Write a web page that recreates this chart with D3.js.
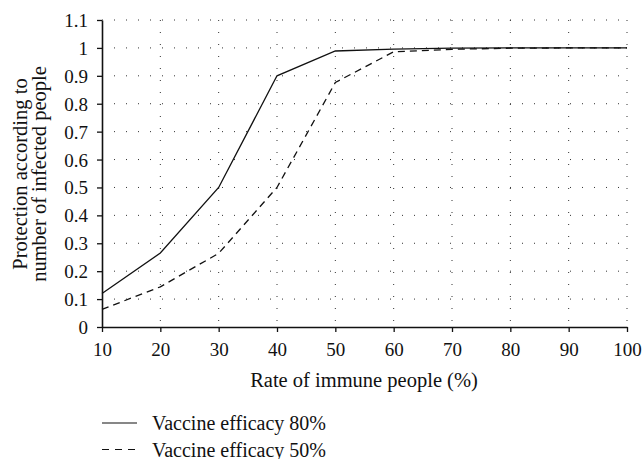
<!DOCTYPE html>
<html><head><meta charset="utf-8">
<script src="https://cdn.jsdelivr.net/npm/d3@7"></script>
<style>body{margin:0;background:#fff}svg{display:block}text{font-family:"Liberation Serif","Times New Roman",serif;fill:#111}</style>
</head><body><div id="chart"></div>
<script>
const rates = [10,20,30,40,50,60,70,80,90,100];
const efficacy80 = [0.12,0.265,0.5,0.9,0.989,0.996,0.999,1,1,1];
const efficacy50 = [0.063,0.144,0.264,0.5,0.876,0.986,0.995,0.999,1,1];
const xTicks = [10,20,30,40,50,60,70,80,90,100];
const yTicks = [0,0.1,0.2,0.3,0.4,0.5,0.6,0.7,0.8,0.9,1,1.1];
const seriesNames = ["Vaccine efficacy 80%","Vaccine efficacy 50%"];

const W=643,H=459;
const svg=d3.select("#chart").append("svg").attr("width",W).attr("height",H);
const x=d3.scaleLinear().domain([10,100]).range([102,627]);
const y=d3.scaleLinear().domain([0,1.1]).range([327,20]);

// grid
const g=svg.append("g");
g.selectAll("line.v").data(xTicks.slice(1)).join("line")
 .attr("x1",d=>x(d)).attr("x2",d=>x(d)).attr("y1",y(1.1)).attr("y2",y(0))
 .attr("stroke","#333").attr("stroke-width",1).attr("stroke-dasharray","1,11");
g.selectAll("line.h").data(yTicks.slice(1)).join("line")
 .attr("x1",x(10)).attr("x2",x(100)).attr("y1",d=>y(d)).attr("y2",d=>y(d))
 .attr("stroke","#333").attr("stroke-width",1).attr("stroke-dasharray","1,11").attr("stroke-dashoffset",-12);

// axes
const xa=svg.append("g").attr("transform",`translate(0,${y(0)})`)
 .call(d3.axisBottom(x).tickValues(xTicks).tickSize(5).tickSizeOuter(0).tickPadding(8).tickFormat(d3.format("d")));
const ya=svg.append("g").attr("transform",`translate(${x(10)},0)`)
 .call(d3.axisLeft(y).tickValues(yTicks).tickSize(5).tickSizeOuter(0).tickPadding(9).tickFormat(d=>d3.format("")(+d.toFixed(1))));
[xa,ya].forEach(a=>{a.select(".domain").attr("stroke","#111").attr("stroke-width",1.6);
 a.selectAll(".tick line").attr("stroke","#111").attr("stroke-width",1.3);
 a.selectAll("text").style("font-size","19px").style("font-family","'Liberation Serif',serif").attr("fill","#111");});
xa.selectAll("text").attr("dy","0.82em");
ya.selectAll("text").attr("dy","0.34em");

// lines
const line=d3.line().x((d,i)=>x(rates[i])).y(d=>y(d));
svg.append("path").datum(efficacy80).attr("d",line).attr("fill","none").attr("stroke","#111").attr("stroke-width",1.3);
svg.append("path").datum(efficacy50).attr("d",line).attr("fill","none").attr("stroke","#111").attr("stroke-width",1.3).attr("stroke-dasharray","7,5");

// titles
svg.append("text").attr("x",364).attr("y",387).attr("text-anchor","middle").style("font-size","20.5px").text("Rate of immune people (%)");
const yt=svg.append("text").attr("transform","translate(27,174) rotate(-90)").attr("text-anchor","middle").style("font-size","20.5px");
yt.append("tspan").attr("x",0).attr("y",0).text("Protection according to");
yt.append("tspan").attr("x",0).attr("y",19).text("number of infected people");

// legend
const leg=svg.append("g");
seriesNames.forEach((n,i)=>{
 const yy=423+i*26.5;
 leg.append("line").attr("x1",102).attr("x2",137).attr("y1",yy).attr("y2",yy).attr("stroke","#111").attr("stroke-width",1.2)
  .attr("stroke-dasharray",i?"7,6":null);
 leg.append("text").attr("x",152).attr("y",yy+7).style("font-size","20px").text(n);
});
</script></body></html>
